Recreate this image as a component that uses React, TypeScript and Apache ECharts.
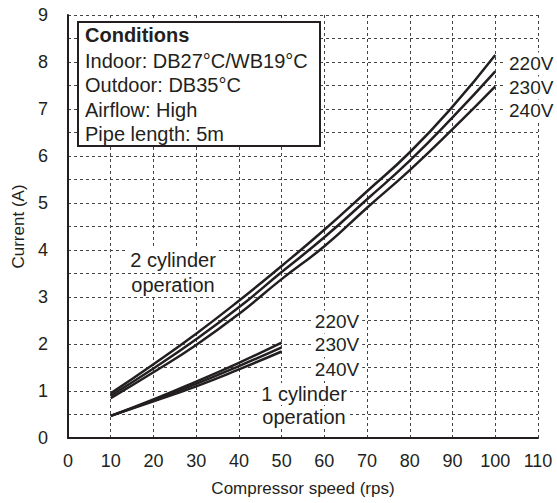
import React, { useEffect, useRef } from "react";
import * as echarts from "echarts";

const speeds2 = [10, 20, 30, 40, 50, 60, 70, 80, 90, 100];
const cyl2V220 = [0.95, 1.57, 2.22, 2.92, 3.66, 4.43, 5.25, 6.08, 7.05, 8.15];
const cyl2V230 = [0.9, 1.48, 2.1, 2.78, 3.53, 4.27, 5.08, 5.9, 6.82, 7.8];
const cyl2V240 = [0.85, 1.4, 1.98, 2.64, 3.38, 4.08, 4.9, 5.7, 6.57, 7.48];

const speeds1 = [10, 20, 30, 40, 50];
const cyl1V220 = [0.47, 0.82, 1.2, 1.6, 2.03];
const cyl1V230 = [0.47, 0.8, 1.15, 1.53, 1.93];
const cyl1V240 = [0.47, 0.78, 1.1, 1.46, 1.84];

const voltages = ["220V", "230V", "240V"];
const conditions = [
  "Conditions",
  "Indoor: DB27°C/WB19°C",
  "Outdoor: DB35°C",
  "Airflow: High",
  "Pipe length: 5m",
];

const FONT = "'Liberation Sans', Arial, Helvetica, sans-serif";
const INK = "#231f20";

function pairs(xs: number[], ys: number[]) {
  return xs.map((x, i) => [x, ys[i]]);
}

export default function App() {
  const ref = useRef<HTMLDivElement>(null);
  useEffect(() => {
    if (!ref.current) return;
    const chart = echarts.init(ref.current, null, { renderer: "svg" });
    const lineSeries = (data: number[][]) => ({
      type: "line",
      data,
      smooth: true,
      showSymbol: false,
      lineStyle: { color: INK, width: 2.5 },
      z: 3,
    });
    const txt = (text: string, x: number, y: number, opts: any = {}) => ({
      type: "text",
      x,
      y,
      z: 10,
      style: {
        text,
        fill: INK,
        fontSize: opts.size || 20,
        fontFamily: FONT,
        align: opts.align || "left",
        verticalAlign: "middle",
        fontWeight: opts.bold ? "bold" : "normal",
        backgroundColor: opts.bg ? "#fff" : undefined,
        padding: opts.bg ? [1, 3] : undefined,
      },
    });
    const graphics: any[] = [
      {
        type: "rect",
        z: 9,
        shape: { x: 78, y: 22, width: 242, height: 124 },
        style: { fill: "#fff", stroke: INK, lineWidth: 2 },
      },
    ];
    const condY = [35, 61, 85, 110, 134];
    conditions.forEach((c, i) =>
      graphics.push(txt(c, 85, condY[i], { bold: i === 0 }))
    );
    const upY = [63, 87, 110];
    voltages.forEach((v, i) =>
      graphics.push(txt(v, 506, upY[i], { bg: true, size: 19 }))
    );
    const lowY = [321, 344, 369];
    voltages.forEach((v, i) =>
      graphics.push(txt(v, 337, lowY[i], { bg: true, align: "center", size: 19 }))
    );
    graphics.push(txt("2 cylinder", 173, 260, { bg: true, align: "center" }));
    graphics.push(txt("operation", 173, 285, { bg: true, align: "center" }));
    graphics.push(txt("1 cylinder", 304, 394, { bg: true, align: "center" }));
    graphics.push(txt("operation", 304, 417, { bg: true, align: "center" }));

    chart.setOption({
      animation: false,
      textStyle: { fontFamily: FONT, color: INK },
      grid: { left: 68, right: 19, top: 15, bottom: 65, containLabel: false },
      xAxis: {
        type: "value",
        min: 0,
        max: 110,
        interval: 10,
        name: "Compressor speed (rps)",
        nameLocation: "middle",
        nameGap: 42,
        nameTextStyle: { fontSize: 17, color: INK, fontFamily: FONT },
        axisLine: { show: true, onZero: false, lineStyle: { color: INK, width: 2 } },
        axisTick: { show: false },
        axisLabel: { fontSize: 18, color: INK, margin: 14, fontFamily: FONT },
        splitLine: {
          show: true,
          lineStyle: { color: "#444", type: [3, 3], width: 1 },
        },
      },
      yAxis: {
        type: "value",
        min: 0,
        max: 9,
        interval: 0.5,
        name: "Current (A)",
        nameLocation: "middle",
        nameGap: 35,
        nameTextStyle: { fontSize: 17, color: INK, fontFamily: FONT },
        axisLine: { show: true, onZero: false, lineStyle: { color: INK, width: 2 } },
        axisTick: { show: false },
        axisLabel: {
          fontSize: 18,
          color: INK,
          margin: 20,
          fontFamily: FONT,
          formatter: (v: number) => (Number.isInteger(v) ? String(v) : ""),
        },
        splitLine: {
          show: true,
          lineStyle: { color: "#444", type: [3, 3], width: 1 },
        },
      },
      series: [
        lineSeries(pairs(speeds2, cyl2V220)),
        lineSeries(pairs(speeds2, cyl2V230)),
        lineSeries(pairs(speeds2, cyl2V240)),
        lineSeries(pairs(speeds1, cyl1V220)),
        lineSeries(pairs(speeds1, cyl1V230)),
        lineSeries(pairs(speeds1, cyl1V240)),
      ],
      graphic: graphics,
    });
    return () => chart.dispose();
  }, []);
  return (
    <div
      ref={ref}
      style={{ position: "fixed", left: 0, top: 0, width: 557, height: 503, background: "#fff" }}
    />
  );
}
